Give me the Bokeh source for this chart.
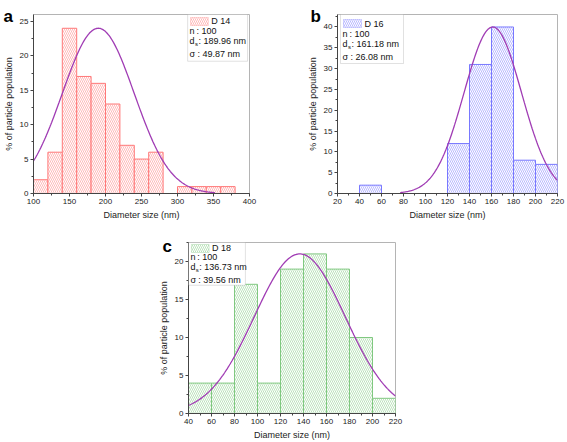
import numpy as np
from bokeh.plotting import figure
from bokeh.models import Range1d, SingleIntervalTicker, Label, BoxAnnotation, Spacer
from bokeh.layouts import column, row
from bokeh.embed import file_html
from bokeh.resources import INLINE

# ---------------- data ----------------
bin_width = 20

bins_a = [100, 120, 140, 160, 180, 200, 220, 240, 260, 300, 320, 340, 360]
pct_a = [2, 6, 24, 17, 16, 13, 7, 5, 6, 1, 1, 1, 1]
name_a = "D 14"
n_a, ds_a, sigma_a, amp_a = 100, 189.96, 49.87, 24.0
curve_span_a = [100, 352]

bins_b = [40, 120, 140, 160, 180, 200]
pct_b = [2, 12, 31, 40, 8, 7]
name_b = "D 16"
n_b, ds_b, sigma_b, amp_b = 100, 161.18, 26.08, 40.0
curve_span_b = [77, 220]

bins_c = [40, 60, 80, 100, 120, 140, 160, 180, 200]
pct_c = [4, 4, 17, 4, 19, 21, 19, 10, 2]
name_c = "D 18"
n_c, ds_c, sigma_c, amp_c = 100, 136.73, 39.56, 21.0
curve_span_c = [40, 220]

FONT = "Liberation Sans"
CURVE = "#a03cb4"


def make_panel(letter, bins, pct, name, n, ds, sigma, amp, span,
               xr, yr, xint, edge, hatch, width, height, borders, legend_anchor, letter_pos):
    bl, br, bt, bb = borders
    p = figure(width=width, height=height, output_backend="svg", toolbar_location=None,
               x_range=Range1d(*xr), y_range=Range1d(*yr),
               min_border_left=bl, min_border_right=br, min_border_top=bt,
               min_border_bottom=bb)
    fw = width - bl - br
    fh = height - bt - bb
    sx = (xr[1] - xr[0]) / fw
    sy = (yr[1] - yr[0]) / fh

    p.xgrid.visible = False
    p.ygrid.visible = False
    p.outline_line_color = "#b4b4b4"
    p.background_fill_color = "white"
    p.border_fill_color = "white"

    p.xaxis.ticker = SingleIntervalTicker(interval=xint, num_minor_ticks=2)
    p.yaxis.ticker = SingleIntervalTicker(interval=5, num_minor_ticks=2)
    for ax in (p.xaxis[0], p.yaxis[0]):
        ax.axis_line_color = "#444444"
        ax.major_tick_line_color = "#444444"
        ax.minor_tick_line_color = "#444444"
        ax.major_tick_in = 0
        ax.major_tick_out = 3
        ax.minor_tick_in = 0
        ax.minor_tick_out = 2
        ax.major_label_text_font = FONT
        ax.major_label_text_font_size = "8px"
        ax.major_label_text_color = "#222222"
        ax.major_label_standoff = 2
        ax.axis_label_text_font = FONT
        ax.axis_label_text_font_size = "9px"
        ax.axis_label_text_font_style = "normal"
        ax.axis_label_text_color = "#222222"
        ax.axis_label_standoff = 3
    p.xaxis.axis_label = "Diameter size (nm)"
    p.yaxis.axis_label = "% of particle population"

    lefts = np.array(bins, dtype=float)
    p.quad(left=lefts, right=lefts + bin_width, top=pct, bottom=0,
           fill_color="white", line_color=edge, line_width=1,
           hatch_pattern="\\", hatch_color=hatch, hatch_scale=4, hatch_weight=0.8)

    xs = np.linspace(span[0], span[1], 200)
    ys = amp * np.exp(-((xs - ds) ** 2) / (2 * sigma ** 2))
    p.line(xs, ys, line_color=CURVE, line_width=1.3)

    # panel letter: lives in the (otherwise empty) right side panel, shifted left
    lx_off, below_top = letter_pos
    p.add_layout(Label(x=-(fw - lx_off), y=fh - below_top, x_units="screen", y_units="screen",
                       text=letter, text_font=FONT, text_font_size="17px",
                       text_font_style="bold", text_color="black",
                       text_baseline="alphabetic", text_align="left"), "right")

    side, off_x, bw, bh, rows = legend_anchor
    if side == "right":
        lx = fw - off_x - bw
    else:
        lx = off_x
    ty = 0

    def dx(px):
        return xr[0] + px * sx

    def dy(py):
        return yr[1] - py * sy

    p.add_layout(BoxAnnotation(left=dx(lx), right=dx(lx + bw), top=dy(ty), bottom=dy(ty + bh),
                               fill_color="white", fill_alpha=1, line_color="#9a9a9a",
                               line_width=1, level="overlay"))
    r0, r1, r2, r3 = rows
    p.add_layout(BoxAnnotation(left=dx(lx + 3), right=dx(lx + 21), top=dy(ty + r0 - 4),
                               bottom=dy(ty + r0 + 4), fill_color="white", fill_alpha=1,
                               line_color=edge, line_width=1, hatch_pattern="\\",
                               hatch_color=hatch, hatch_scale=4, hatch_weight=0.8,
                               level="overlay"))

    def txt(px, py, s, size="9px"):
        p.add_layout(Label(x=dx(lx + px), y=dy(ty + py), text=s, text_font=FONT,
                           text_font_size=size, text_color="#111111",
                           text_baseline="middle", text_align="left", level="overlay"))

    txt(24, r0, name)
    txt(2, r1, "n")
    txt(9, r1, ": %d" % n)
    txt(2, r2, "d")
    txt(7.5, r2 + 3, "s", "6px")
    txt(11, r2, ": %.2f nm" % ds)
    txt(2, r3, "σ")
    txt(10, r3, ": %.2f nm" % sigma)
    return p


pa = make_panel("a", bins_a, pct_a, name_a, n_a, ds_a, sigma_a, amp_a, curve_span_a,
                (100, 400), (0, 26), 50, "#ff7878", "#ffa8a8",
                290, 222, (29, 41, 13, 29), ("right", 2, 61, 47, (7, 17, 27, 40)), (-26, 3))
pb = make_panel("b", bins_b, pct_b, name_b, n_b, ds_b, sigma_b, amp_b, curve_span_b,
                (20, 220), (0, 43), 20, "#7878ff", "#a8a8ff",
                277, 222, (47, 10, 14, 29), ("left", 3, 63, 49, (9, 19, 29, 42)), (-27, 2))
pc = make_panel("c", bins_c, pct_c, name_c, n_c, ds_c, sigma_c, amp_c, curve_span_c,
                (40, 220), (0, 22.5), 20, "#80c880", "#acdcac",
                254, 220, (29, 14, 20, 28), ("left", 0, 58, 43, (6, 15, 25, 38)), (-22, 5))

layout = column(row(pa, pb), row(Spacer(width=155, height=220), pc))

open("out.html", "w").write(file_html(layout, INLINE))
